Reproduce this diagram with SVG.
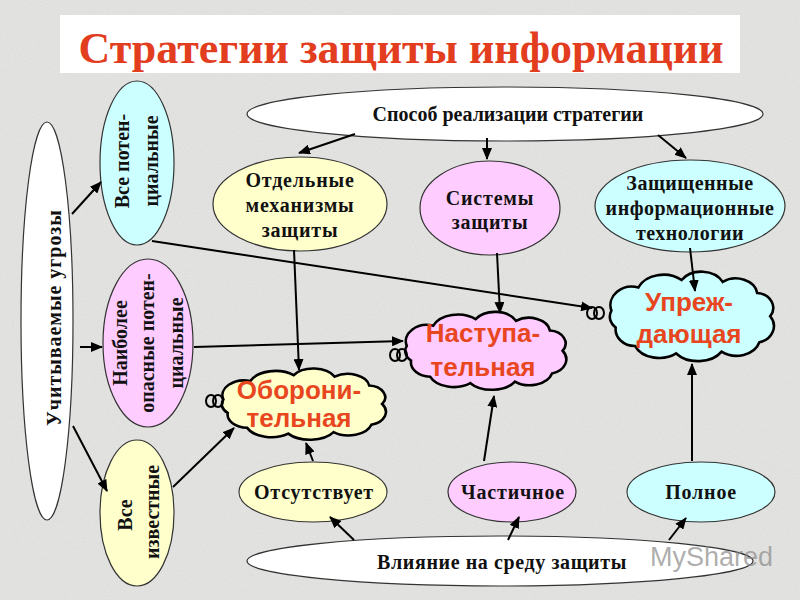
<svg xmlns="http://www.w3.org/2000/svg" width="800" height="600" viewBox="0 0 800 600">
<defs>
<filter id="noise" x="0" y="0" width="100%" height="100%">
<feTurbulence type="fractalNoise" baseFrequency="0.9" numOctaves="2" seed="3" result="n"/>
<feColorMatrix type="matrix" values="0 0 0 0 0.55  0 0 0 0 0.55  0 0 0 0 0.55  0 0 0 0.35 0" in="n"/>
</filter>
<marker id="arr" markerUnits="userSpaceOnUse" markerWidth="12" markerHeight="10" refX="11" refY="5" orient="auto">
<path d="M0,0 L12,5 L0,10 z" fill="#000"/>
</marker>
<path id="cloud" d="M -70,-10 a 20 20 0 0 1 25,-25 a 25 22 0 0 1 40,-8 a 22 20 0 0 1 38,2 a 20 18 0 0 1 32,12 a 16 16 0 0 1 12,25 a 18 18 0 0 1 -10,28 a 22 20 0 0 1 -35,10 a 25 20 0 0 1 -42,2 a 24 20 0 0 1 -38,-8 a 18 18 0 0 1 -18,-20 a 15 15 0 0 1 -4,-18 z" vector-effect="non-scaling-stroke"/>
</defs>
<style>
.bg{fill:#e7e7e5}
.node{stroke:#333;stroke-width:1.2}
.white{fill:#ffffff}
.yel{fill:#ffffcc}
.pink{fill:#ffccff}
.cyan{fill:#ccffff}
.cl{stroke:#000;stroke-width:2.6}
.t{font-family:"Liberation Serif","DejaVu Serif",serif;font-weight:bold;font-size:20px;fill:#111;text-anchor:middle}
.ct{font-family:"Liberation Sans","DejaVu Sans",sans-serif;font-weight:bold;font-size:26px;fill:#e8461e;text-anchor:middle}
.conn line{stroke:#000;stroke-width:2;marker-end:url(#arr)}
.curl{fill:none;stroke:#000;stroke-width:2}
</style>
<rect class="bg" x="0" y="0" width="800" height="600"/>
<rect x="0" y="0" width="800" height="600" filter="url(#noise)"/>

<g id="title">
<rect x="60" y="15" width="680" height="58" fill="#ffffff"/>
<text x="401" y="63" font-family="'Liberation Serif','DejaVu Serif',serif" font-weight="bold" font-size="44" fill="#e23d1e" text-anchor="middle" textLength="645" lengthAdjust="spacingAndGlyphs">Стратегии защиты информации</text>
</g>

<g id="threats">
<ellipse class="node white" cx="47" cy="321" rx="26" ry="199"/>
<text class="t" transform="translate(61,318) rotate(-90)" textLength="216" lengthAdjust="spacing">Учитываемые   угрозы</text>
</g>

<g id="all-potential">
<ellipse class="node cyan" cx="137" cy="163" rx="37" ry="82"/>
<text class="t" transform="translate(129,161) rotate(-90)">Все потен-</text>
<text class="t" transform="translate(158,161) rotate(-90)">циальные</text>
</g>

<g id="most-dangerous">
<ellipse class="node pink" cx="148" cy="343" rx="45" ry="84"/>
<text class="t" transform="translate(127,343) rotate(-90)">Наиболее</text>
<text class="t" transform="translate(154,343) rotate(-90)">опасные потен-</text>
<text class="t" transform="translate(183,343) rotate(-90)">циальные</text>
</g>

<g id="all-known">
<ellipse class="node yel" cx="137" cy="513" rx="37" ry="73"/>
<text class="t" transform="translate(132,515) rotate(-90)">Все</text>
<text class="t" transform="translate(159,512) rotate(-90)">известные</text>
</g>

<g id="method">
<ellipse class="node white" cx="505" cy="114" rx="258" ry="27"/>
<text class="t" x="508" y="121">Способ реализации стратегии</text>
</g>

<g id="mechanisms">
<ellipse class="node yel" cx="300" cy="204" rx="87" ry="47"/>
<text class="t" x="300" y="187" letter-spacing="0.8">Отдельные</text>
<text class="t" x="300" y="212" letter-spacing="0.8">механизмы</text>
<text class="t" x="300" y="237" letter-spacing="0.8">защиты</text>
</g>

<g id="systems">
<ellipse class="node pink" cx="490" cy="208" rx="70" ry="47"/>
<text class="t" x="490" y="205" letter-spacing="0.8">Системы</text>
<text class="t" x="490" y="229" letter-spacing="0.8">защиты</text>
</g>

<g id="technologies">
<ellipse class="node cyan" cx="690" cy="206" rx="95" ry="46"/>
<text class="t" x="690" y="190" letter-spacing="0.5">Защищенные</text>
<text class="t" x="690" y="215" letter-spacing="0.5">информационные</text>
<text class="t" x="690" y="240" letter-spacing="0.5">технологии</text>
</g>

<g id="defensive">
<use href="#cloud" class="yel cl" transform="translate(299,407) scale(1.08,0.74)"/>
<ellipse class="curl" cx="211" cy="401" rx="5" ry="6"/>
<ellipse class="curl" cx="218" cy="401" rx="5" ry="6"/>
<text class="ct" x="299" y="399">Оборони-</text>
<text class="ct" x="299" y="427">тельная</text>
</g>

<g id="offensive">
<use href="#cloud" class="pink cl" transform="translate(481,354) scale(1.06,0.81)"/>
<ellipse class="curl" cx="395" cy="355" rx="5" ry="6"/>
<ellipse class="curl" cx="402" cy="355" rx="5" ry="6"/>
<text class="ct" x="483" y="342">Наступа-</text>
<text class="ct" x="483" y="376">тельная</text>
</g>

<g id="preventive">
<use href="#cloud" class="cyan cl" transform="translate(687,320) scale(1.08,0.93)"/>
<ellipse class="curl" cx="592" cy="313" rx="5" ry="6"/>
<ellipse class="curl" cx="599" cy="313" rx="5" ry="6"/>
<text class="ct" x="689" y="311">Упреж-</text>
<text class="ct" x="689" y="343">дающая</text>
</g>

<g id="absent">
<ellipse class="node yel" cx="313" cy="492" rx="74" ry="30"/>
<text class="t" x="314" y="499" letter-spacing="0.8">Отсутствует</text>
</g>
<g id="partial">
<ellipse class="node pink" cx="512" cy="492" rx="64" ry="30"/>
<text class="t" x="513" y="499" letter-spacing="0.8">Частичное</text>
</g>
<g id="full">
<ellipse class="node cyan" cx="701" cy="492" rx="74" ry="30"/>
<text class="t" x="701" y="499" letter-spacing="0.8">Полное</text>
</g>

<g id="influence">
<ellipse class="node white" cx="500" cy="561" rx="253" ry="25"/>
<text class="t" x="502" y="569" letter-spacing="0.6">Влияние на среду защиты</text>
</g>

<g id="connectors" class="conn">
<line x1="72" y1="214" x2="101" y2="182"/>
<line x1="80" y1="347" x2="102" y2="347"/>
<line x1="73" y1="426" x2="107" y2="491"/>
<line x1="152" y1="241" x2="592" y2="308"/>
<line x1="194" y1="347" x2="403" y2="341"/>
<line x1="173" y1="487" x2="234" y2="428"/>
<line x1="355" y1="134" x2="299" y2="153"/>
<line x1="487" y1="138" x2="487" y2="159"/>
<line x1="658" y1="135" x2="686" y2="158"/>
<line x1="294" y1="250" x2="299" y2="370"/>
<line x1="497" y1="253" x2="500" y2="313"/>
<line x1="690" y1="248" x2="695" y2="291"/>
<line x1="313" y1="461" x2="306" y2="443"/>
<line x1="484" y1="461" x2="494" y2="396"/>
<line x1="692" y1="461" x2="692" y2="364"/>
<line x1="354" y1="540" x2="330" y2="517"/>
<line x1="508" y1="540" x2="519" y2="517"/>
<line x1="669" y1="540" x2="686" y2="518"/>
</g>

<text x="650" y="566" font-family="'Liberation Sans','DejaVu Sans',sans-serif" font-size="27" fill="#8a8a8a" fill-opacity="0.7">MyShared</text>
</svg>
